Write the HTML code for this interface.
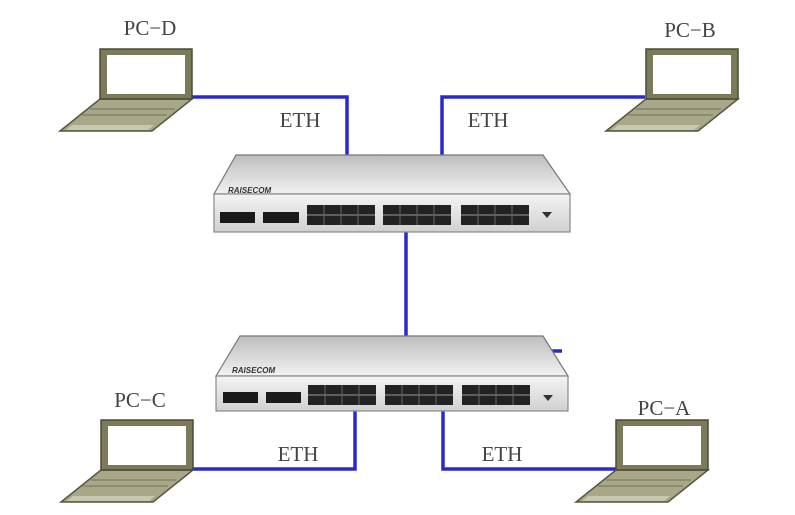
<!DOCTYPE html>
<html><head><meta charset="utf-8"><style>
html,body{margin:0;padding:0;background:#fff;}
svg{display:block}
text{font-family:"Liberation Serif",serif;font-size:21px;fill:#444;}
</style></head><body>
<svg width="795" height="515" viewBox="0 0 795 515" xmlns="http://www.w3.org/2000/svg">
<defs>
<linearGradient id="top" x1="0" y1="0" x2="0" y2="1">
<stop offset="0" stop-color="#bdbdbd"/><stop offset="1" stop-color="#f2f2f2"/></linearGradient>
<linearGradient id="front" x1="0" y1="0" x2="0" y2="1">
<stop offset="0" stop-color="#f4f4f4"/><stop offset="1" stop-color="#d0d0d0"/></linearGradient>
<g id="laptop">
<polygon points="0,50 92,50 52,82 -40,82" fill="#a8a888" stroke="#555540" stroke-width="1.5"/>
<polygon points="-28,76 54,76 48,81 -34,81" fill="#c8c8b0"/>
<line x1="-10" y1="60" x2="75" y2="60" stroke="#707058" stroke-width="1"/>
<line x1="-18" y1="66" x2="67" y2="66" stroke="#707058" stroke-width="1"/>
<rect x="0" y="0" width="92" height="50" fill="#7b7b5a" stroke="#4a4a38" stroke-width="1.5"/>
<rect x="7" y="6" width="78" height="39" fill="#fff"/>
</g>
<g id="ports">
<rect x="0" y="0" width="68" height="20" fill="#222"/>
<line x1="0" y1="10" x2="68" y2="10" stroke="#999" stroke-width="1"/>
<line x1="17" y1="0" x2="17" y2="20" stroke="#666" stroke-width="1"/>
<line x1="34" y1="0" x2="34" y2="20" stroke="#666" stroke-width="1"/>
<line x1="51" y1="0" x2="51" y2="20" stroke="#666" stroke-width="1"/>
</g>
</defs>

<!-- cables -->
<g fill="none" stroke="#2a2acc" stroke-width="3.5">
<polyline points="188,97 347,97 347,157"/>
<polyline points="645,97 442,97 442,157"/>
<line x1="406" y1="230" x2="406" y2="337"/>
<polyline points="190,469 355,469 355,408"/>
<polyline points="617,469 443,469 443,408"/>
<line x1="552" y1="351" x2="562" y2="351"/>
</g>

<!-- upper switch -->
<polygon points="236,155 543,155 570,194 214,194" fill="url(#top)" stroke="#777" stroke-width="1.2"/>
<rect x="214" y="194" width="356" height="38" fill="url(#front)" stroke="#888" stroke-width="1.2"/>
<text x="228" y="193" style="font-family:'Liberation Sans',sans-serif;font-size:8px;font-style:italic;font-weight:bold;fill:#333">RAISECOM</text>
<rect x="220" y="212" width="35" height="11" fill="#1a1a1a"/>
<rect x="263" y="212" width="36" height="11" fill="#1a1a1a"/>
<use href="#ports" x="307" y="205"/>
<use href="#ports" x="383" y="205"/>
<use href="#ports" x="461" y="205"/>
<polygon points="542,212 552,212 547,218" fill="#333"/>

<!-- lower switch -->
<polygon points="240,336 543,336 568,376 216,376" fill="url(#top)" stroke="#777" stroke-width="1.2"/>
<rect x="216" y="376" width="352" height="35" fill="url(#front)" stroke="#888" stroke-width="1.2"/>
<text x="232" y="373" style="font-family:'Liberation Sans',sans-serif;font-size:8px;font-style:italic;font-weight:bold;fill:#333">RAISECOM</text>
<rect x="223" y="392" width="35" height="11" fill="#1a1a1a"/>
<rect x="266" y="392" width="35" height="11" fill="#1a1a1a"/>
<use href="#ports" x="308" y="385"/>
<use href="#ports" x="385" y="385"/>
<use href="#ports" x="462" y="385"/>
<polygon points="543,395 553,395 548,401" fill="#333"/>

<!-- laptops -->
<use href="#laptop" x="100" y="49"/>
<use href="#laptop" x="646" y="49"/>
<use href="#laptop" x="101" y="420"/>
<use href="#laptop" x="616" y="420"/>

<!-- labels -->
<text x="150" y="35" text-anchor="middle">PC−D</text>
<text x="690" y="37" text-anchor="middle">PC−B</text>
<text x="140" y="407" text-anchor="middle">PC−C</text>
<text x="664" y="415" text-anchor="middle">PC−A</text>
<text x="300" y="127" text-anchor="middle">ETH</text>
<text x="488" y="127" text-anchor="middle">ETH</text>
<text x="298" y="461" text-anchor="middle">ETH</text>
<text x="502" y="461" text-anchor="middle">ETH</text>
</svg>
</body></html>
